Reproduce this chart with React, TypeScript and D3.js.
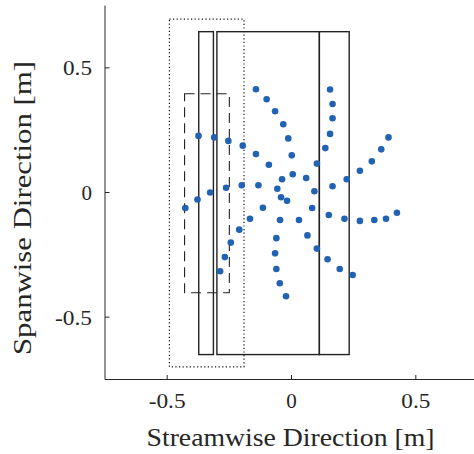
import React from "react";
import * as d3 from "d3";

const xs = [
  -0.143, -0.100, -0.066, -0.033, -0.013, 0.001, 0.005,
  -0.143, -0.091, -0.038, -0.057, -0.042, -0.018,
  -0.374, -0.311, -0.254, -0.196,
  -0.327, -0.263, -0.200, -0.133, -0.378, -0.427,
  -0.115, -0.167, -0.210, -0.244, -0.268, -0.287,
  -0.046, -0.061, -0.066, -0.061, -0.047, -0.022,
  0.155, 0.165, 0.165, 0.155, 0.136, 0.102, 0.059,
  0.092, 0.165, 0.222, 0.275, 0.323, 0.361, 0.390,
  0.083, 0.030, 0.064, 0.102,
  0.150, 0.213, 0.275, 0.333, 0.380, 0.424,
  0.145, 0.194, 0.246,
];
const ys = [
  0.414, 0.374, 0.326, 0.274, 0.217, 0.149, 0.073,
  0.154, 0.111, 0.053, 0.015, -0.019, -0.033,
  0.227, 0.221, 0.207, 0.188,
  0.000, 0.019, 0.029, 0.029, -0.028, -0.062,
  -0.061, -0.105, -0.149, -0.201, -0.259, -0.316,
  -0.110, -0.183, -0.244, -0.307, -0.364, -0.416,
  0.413, 0.355, 0.298, 0.235, 0.178, 0.116, 0.058,
  0.005, 0.025, 0.053, 0.087, 0.125, 0.173, 0.221,
  -0.062, -0.110, -0.172, -0.225,
  -0.090, -0.105, -0.114, -0.110, -0.105, -0.081,
  -0.268, -0.307, -0.331,
];

// rectangles: [x0, x1, y0, y1]
const solidRects = [
  [-0.373, -0.314, -0.65, 0.645],
  [-0.300, 0.112, -0.65, 0.645],
  [0.112, 0.232, -0.65, 0.645],
];
const dashedRect = [-0.430, -0.250, -0.402, 0.396];
const dottedRect = [-0.491, -0.191, -0.699, 0.695];

const xTicks = [-0.5, 0, 0.5];
const yTicks = [-0.5, 0, 0.5];
const xLabel = "Streamwise Direction [m]";
const yLabel = "Spanwise Direction [m]";

const W = 474;
const H = 454;
const font = "'Liberation Serif', 'DejaVu Serif', serif";

export default function App() {
  const x = d3.scaleLinear().domain([-0.75, 0.75]).range([105, 478]);
  const y = d3.scaleLinear().domain([-0.75, 0.75]).range([379.5, 5.5]);
  const axisColor = "#262626";
  const fmt = (t: number) => (t === 0 ? "0" : String(t));
  const tickLen = (t: number) => (t === 0 ? undefined : t < 0 ? 37 : 29);
  const rect = (r: number[], props: any, key: string) => (
    <rect
      key={key}
      x={x(r[0])}
      y={y(r[3])}
      width={x(r[1]) - x(r[0])}
      height={y(r[2]) - y(r[3])}
      fill="none"
      {...props}
    />
  );
  return (
    <svg width={W} height={H} style={{ position: "absolute", left: 0, top: 0, background: "#fff" }}>
      {/* axes */}
      <line x1={x(-0.75)} x2={x(-0.75)} y1={y(0.75)} y2={y(-0.75)} stroke={axisColor} strokeWidth={1} />
      <line x1={x(-0.75)} x2={x(0.75)} y1={y(-0.75)} y2={y(-0.75)} stroke={axisColor} strokeWidth={1} />
      {xTicks.map((t) => (
        <g key={"xt" + t}>
          <line x1={x(t)} x2={x(t)} y1={y(-0.75)} y2={y(-0.75) - 4.5} stroke={axisColor} />
          <text
            x={x(t)}
            y={408}
            textAnchor="middle"
            fontFamily={font}
            fontSize={21}
            fill="#262626"
            textLength={tickLen(t)}
            lengthAdjust="spacingAndGlyphs"
          >
            {fmt(t)}
          </text>
        </g>
      ))}
      {yTicks.map((t) => (
        <g key={"yt" + t}>
          <line x1={x(-0.75)} x2={x(-0.75) + 4.5} y1={y(t)} y2={y(t)} stroke={axisColor} />
          <text
            x={92}
            y={y(t) + 7.5}
            textAnchor="end"
            fontFamily={font}
            fontSize={21}
            fill="#262626"
            textLength={tickLen(t)}
            lengthAdjust="spacingAndGlyphs"
          >
            {fmt(t)}
          </text>
        </g>
      ))}
      <text
        x={290.5}
        y={446}
        textAnchor="middle"
        fontFamily={font}
        fontSize={25}
        fill="#262626"
        textLength={288}
        lengthAdjust="spacingAndGlyphs"
      >
        {xLabel}
      </text>
      <text
        transform={`translate(31,208) rotate(-90)`}
        textAnchor="middle"
        fontFamily={font}
        fontSize={25}
        fill="#262626"
        textLength={294}
        lengthAdjust="spacingAndGlyphs"
      >
        {yLabel}
      </text>
      {/* rectangles */}
      {rect(dottedRect, { stroke: "#111", strokeWidth: 1.2, strokeDasharray: "1.2,2.4" }, "dot")}
      {rect(dashedRect, { stroke: "#222", strokeWidth: 1.1, strokeDasharray: "10,6" }, "dash")}
      {solidRects.map((r, i) => rect(r, { stroke: "#222", strokeWidth: 1.4 }, "s" + i))}
      {/* points */}
      {xs.map((v, i) => (
        <circle key={"p" + i} cx={x(v)} cy={y(ys[i])} r={3.3} fill="#2262b2" />
      ))}
    </svg>
  );
}
